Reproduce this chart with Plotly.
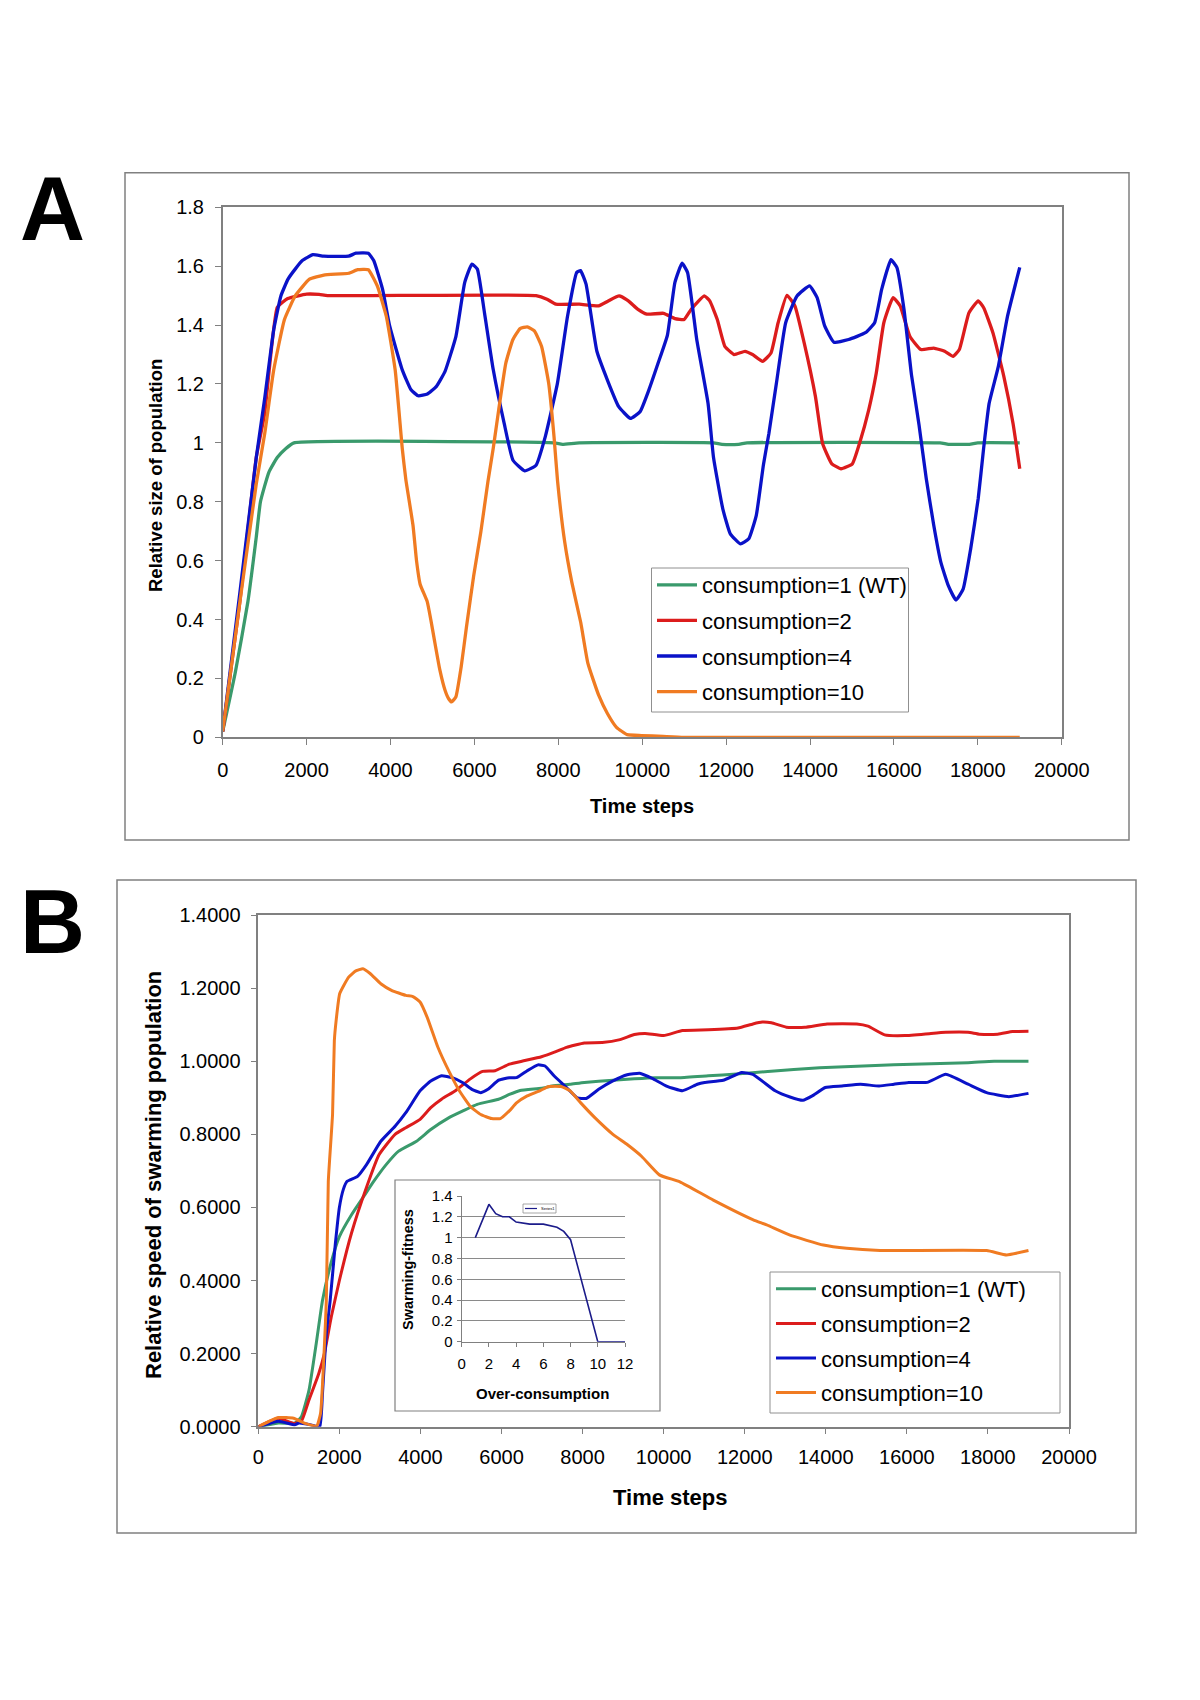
import plotly.graph_objects as go

W, H = 1200, 1700
FONT = "Arial, 'Liberation Sans', sans-serif"


def px(x):
    return x / W


def py(y):
    return 1 - y / H


# ---- Panel A: relative size of population ----
a_wt_x = [0, 300, 600, 800, 900, 1100, 1300, 1500, 1700, 7900, 8100, 8500, 11700, 11900,
          12300, 12500, 17100, 17300, 17800, 18000, 19000]
a_wt_y = [0.02, 0.22, 0.46, 0.68, 0.8, 0.9, 0.95, 0.98, 1.0, 1.0, 0.995, 1.0, 1.0, 0.995,
          0.995, 1.0, 1.0, 0.995, 0.995, 1.0, 1.0]

a_c2_x = [0, 400, 800, 1000, 1300, 1550, 2000, 2300, 2500, 7470, 7730, 7940, 8500, 8960,
          9190, 9450, 9670, 9890, 10110, 10510, 10780, 11000, 11170, 11480, 11610, 11790,
          11970, 12190, 12450, 12630, 12870, 13070, 13240, 13450, 13640, 13860, 14130, 14300,
          14520, 14740, 15010, 15180, 15400, 15580, 15760, 15980, 16150, 16380, 16640, 16950,
          17210, 17410, 17560, 17790, 18010, 18140, 18360, 18620, 18840, 19000]
a_c2_y = [0.02, 0.45, 0.95, 1.1, 1.46, 1.49, 1.505, 1.504, 1.5, 1.5, 1.488, 1.471, 1.471, 1.465,
          1.482, 1.499, 1.482, 1.454, 1.437, 1.44, 1.422, 1.419, 1.454, 1.499, 1.482, 1.419,
          1.328, 1.3, 1.311, 1.3, 1.277, 1.305, 1.408, 1.501, 1.465, 1.34, 1.157, 0.998,
          0.929, 0.912, 0.929, 0.998, 1.112, 1.237, 1.408, 1.493, 1.465, 1.362, 1.317, 1.322,
          1.311, 1.294, 1.317, 1.442, 1.482, 1.459, 1.374, 1.226, 1.066, 0.912]

a_c4_x = [0, 400, 800, 1000, 1217, 1387, 1557, 1728, 1898, 2150, 2410, 3000, 3175, 3470,
          3600, 3810, 3980, 4280, 4490, 4660, 4880, 5090, 5300, 5560, 5770, 5940, 6070, 6240,
          6450, 6710, 6920, 7200, 7470, 7690, 7980, 8220, 8440, 8530, 8660, 8920, 9180, 9440,
          9720, 9950, 10160, 10380, 10600, 10780, 10950, 11080, 11300, 11570, 11700, 11920,
          12100, 12340, 12540, 12720, 12890, 13020, 13200, 13420, 13690, 13990, 14170, 14350,
          14570, 14920, 15320, 15540, 15710, 15930, 16070, 16240, 16420, 16600, 16770, 16950,
          17120, 17300, 17480, 17650, 17830, 18010, 18140, 18270, 18490, 18710, 19000]
a_c4_y = [0.02, 0.48, 0.95, 1.15, 1.385, 1.499, 1.556, 1.59, 1.619, 1.639, 1.634, 1.634, 1.644, 1.644,
          1.619, 1.522, 1.397, 1.248, 1.18, 1.16, 1.166, 1.191, 1.243, 1.362, 1.545, 1.607, 1.59, 1.442,
          1.248, 1.066, 0.941, 0.905, 0.924, 1.021, 1.203, 1.43, 1.579, 1.585, 1.54, 1.311, 1.21, 1.123,
          1.083, 1.106, 1.18, 1.271, 1.365, 1.545, 1.61, 1.579, 1.351, 1.134, 0.95, 0.777,
          0.691, 0.657, 0.674, 0.754, 0.926, 1.032, 1.203, 1.408, 1.499, 1.533, 1.493, 1.397,
          1.342, 1.351, 1.374, 1.408, 1.522, 1.622, 1.596, 1.454, 1.23, 1.06, 0.88, 0.72,
          0.594, 0.514, 0.466, 0.503, 0.64, 0.811, 0.983, 1.134, 1.26, 1.431, 1.596]

a_c10_x = [0, 400, 800, 1000, 1217, 1472, 1728, 2068, 2409, 3004, 3217, 3472, 3685, 3898,
           4111, 4281, 4366, 4536, 4620, 4706, 4877, 4960, 5047, 5175, 5300, 5390, 5455, 5557,
           5685, 5813, 5983, 6153, 6323, 6451, 6579, 6749, 6919, 7089, 7260, 7430, 7600, 7770,
           7898, 7983, 8153, 8323, 8536, 8706, 8962, 9174, 9387, 9643, 9983, 10500, 11000, 19000]
a_c10_y = [0.02, 0.45, 0.86, 1.03, 1.248, 1.419, 1.499, 1.556, 1.57, 1.576, 1.588, 1.588, 1.533, 1.431,
           1.248, 0.98, 0.875, 0.72, 0.6, 0.52, 0.46, 0.4, 0.33, 0.23, 0.16, 0.13, 0.12, 0.137,
           0.24, 0.377, 0.549, 0.697, 0.869, 0.983, 1.112, 1.271, 1.351, 1.388, 1.394, 1.38, 1.328, 1.203,
           1.021, 0.869, 0.663, 0.526, 0.389, 0.251, 0.143, 0.08, 0.034, 0.009, 0.006, 0.003, 0.0, 0.0]

# ---- Panel B: relative speed of swarming population ----
b_wt_x = [0, 500, 900, 1062, 1251, 1440, 1583, 1800, 2000, 2300, 2600, 2846, 3154, 3462, 3903,
          4255, 4696, 5048, 5401, 5929, 6193, 6458, 6986, 7251, 7691, 8044, 8748, 9277, 9805,
          10400, 11100, 11800, 12570, 13850, 14770, 15680, 16600, 17510, 18150, 19000]
b_wt_y = [0.0, 0.01, 0.01, 0.027, 0.1, 0.236, 0.345, 0.45, 0.52, 0.58, 0.63, 0.671, 0.717, 0.754, 0.781,
          0.813, 0.845, 0.864, 0.882, 0.896, 0.909, 0.92, 0.926, 0.932, 0.937, 0.942, 0.948, 0.952, 0.955,
          0.955, 0.96, 0.965, 0.972, 0.982, 0.986, 0.99, 0.993, 0.996, 1.0, 1.0]

b_c2_x = [0, 490, 870, 1060, 1250, 1490, 1630, 1800, 2000, 2300, 2670, 2978, 3374, 3639, 3991,
          4255, 4520, 4872, 5224, 5533, 5841, 6193, 6546, 6986, 7339, 7603, 8044, 8484, 8924,
          9277, 9541, 10000, 10463, 11104, 11836, 12202, 12431, 12660, 13026, 13483, 14032,
          14765, 15039, 15451, 15954, 16595, 16961, 17510, 17785, 18243, 18609, 19000]
b_c2_y = [0.0, 0.023, 0.009, 0.014, 0.073, 0.145, 0.2, 0.3, 0.4, 0.53, 0.655, 0.744, 0.8, 0.818, 0.841,
          0.873, 0.896, 0.92, 0.951, 0.972, 0.974, 0.992, 1.001, 1.012, 1.026, 1.038, 1.05, 1.051, 1.059,
          1.073, 1.076, 1.07, 1.084, 1.086, 1.091, 1.102, 1.107, 1.105, 1.093, 1.093, 1.102,
          1.102, 1.096, 1.072, 1.07, 1.076, 1.079, 1.079, 1.074, 1.074, 1.081, 1.082]

b_c4_x = [0, 500, 900, 1000, 1300, 1516, 1583, 1678, 1773, 1900, 2000, 2100, 2185, 2449, 2670,
          3022, 3374, 3639, 3991, 4255, 4520, 4784, 5048, 5268, 5489, 5665, 5929, 6193, 6370,
          6634, 6898, 7074, 7295, 7603, 7867, 8088, 8396, 8748, 9101, 9409, 9717, 10070, 10463,
          10830, 11012, 11470, 11927, 12202, 12751, 13117, 13437, 13666, 13987, 14399, 14856,
          15314, 15680, 16046, 16503, 16961, 17510, 17968, 18517, 19000]
b_c4_y = [0.0, 0.015, 0.005, 0.01, 0.005, 0.0, 0.09, 0.255, 0.345, 0.5, 0.6, 0.65, 0.671, 0.685, 0.717,
          0.781, 0.822, 0.859, 0.919, 0.946, 0.96, 0.955, 0.941, 0.923, 0.914, 0.923, 0.948, 0.955, 0.955,
          0.974, 0.99, 0.987, 0.96, 0.928, 0.9, 0.898, 0.923, 0.946, 0.963, 0.967, 0.953, 0.932, 0.919,
          0.937, 0.942, 0.948, 0.969, 0.964, 0.919, 0.902, 0.893, 0.905, 0.928, 0.932, 0.937,
          0.932, 0.937, 0.942, 0.942, 0.964, 0.937, 0.914, 0.903, 0.912]

b_c10_x = [0, 493, 872, 1156, 1440, 1535, 1678, 1727, 1832, 1876, 1920, 2009, 2229, 2405, 2581,
           2758, 3022, 3286, 3639, 3815, 3991, 4167, 4431, 4696, 4960, 5224, 5489, 5753, 5973,
           6193, 6370, 6634, 6942, 7162, 7471, 7691, 7955, 8308, 8748, 9101, 9453, 9894, 10401,
           11225, 12212, 12542, 13117, 13939, 14515, 15337, 17969, 18462, 19000]
b_c10_y = [0.0, 0.025, 0.023, 0.009, 0.002, 0.036, 0.345, 0.671, 0.855, 1.056, 1.111, 1.185, 1.23, 1.247, 1.253,
           1.24, 1.212, 1.194, 1.18, 1.177, 1.162, 1.12, 1.038, 0.974, 0.919, 0.877, 0.854, 0.843, 0.843,
           0.864, 0.886, 0.905, 0.919, 0.931, 0.931, 0.919, 0.886, 0.845, 0.8, 0.772, 0.74, 0.689, 0.67,
           0.62, 0.566, 0.552, 0.524, 0.497, 0.488, 0.482, 0.482, 0.47, 0.482]

# ---- Inset: swarming fitness vs over-consumption ----
ins_x = [1, 2, 2.5, 3, 3.5, 4, 5, 6, 7, 7.5, 8, 10, 11, 12]
ins_y = [1.0, 1.32, 1.23, 1.2, 1.2, 1.15, 1.13, 1.13, 1.1, 1.06, 0.98, 0.0, 0.0, 0.0]

names = ["consumption=1 (WT)", "consumption=2", "consumption=4", "consumption=10"]
colors = ["#3a9a6c", "#dc1c1c", "#0a12c8", "#f07b22"]

fig = go.Figure()

a_series = [(a_wt_x, a_wt_y), (a_c2_x, a_c2_y), (a_c4_x, a_c4_y), (a_c10_x, a_c10_y)]
for i, (xs, ys) in enumerate(a_series):
    fig.add_trace(go.Scatter(
        x=xs, y=ys, name=names[i], mode="lines",
        line=dict(color=colors[i], width=3.3, shape="spline", smoothing=0.4),
        xaxis="x", yaxis="y", legend="legend", legendgroup="a%d" % i,
    ))

b_series = [(b_wt_x, b_wt_y), (b_c2_x, b_c2_y), (b_c4_x, b_c4_y), (b_c10_x, b_c10_y)]
for i, (xs, ys) in enumerate(b_series):
    fig.add_trace(go.Scatter(
        x=xs, y=ys, name=names[i], mode="lines",
        line=dict(color=colors[i], width=3, shape="spline", smoothing=0.4),
        xaxis="x2", yaxis="y2", legend="legend2", legendgroup="b%d" % i,
    ))

fig.add_trace(go.Scatter(
    x=ins_x, y=ins_y, name="Series1", mode="lines",
    line=dict(color="#1c1c8a", width=1.6),
    xaxis="x3", yaxis="y3", showlegend=False,
))

axis_common = dict(
    showline=True, linecolor="#808080", linewidth=1.5, mirror=True,
    ticks="outside", ticklen=6, tickcolor="#808080", tickwidth=1,
    showgrid=False, zeroline=False, automargin=False,
    tickfont=dict(family=FONT, size=20, color="black"),
)

# legend frames are drawn as shapes below, so the legends themselves are borderless
legend_common = dict(
    bgcolor="rgba(0,0,0,0)", borderwidth=0,
    font=dict(family=FONT, size=22, color="black"),
    xanchor="left", yanchor="top", traceorder="grouped",
    itemwidth=40,
)

fig.update_layout(
    width=W, height=H, autosize=False,
    margin=dict(l=0, r=0, t=0, b=0, autoexpand=False),
    paper_bgcolor="white",
    plot_bgcolor="rgba(0,0,0,0)",
    font=dict(family=FONT, color="black"),
    xaxis=dict(domain=[px(222.7), px(1061.7)], anchor="y", range=[0, 20000],
               tick0=0, dtick=2000, tickformat="d", ticklabelstandoff=8, **axis_common),
    yaxis=dict(domain=[py(737.3), py(207.3)], anchor="x", range=[0, 1.8],
               tick0=0, dtick=0.2, ticklabelstandoff=7, **axis_common),
    xaxis2=dict(domain=[px(258.3), px(1069)], anchor="y2", range=[0, 20000],
                tick0=0, dtick=2000, tickformat="d", ticklabelstandoff=6, **axis_common),
    yaxis2=dict(domain=[py(1426.7), py(915)], anchor="x2", range=[0, 1.4],
                tick0=0, dtick=0.2, tickformat=".4f", ticklabelstandoff=6, **axis_common),
    xaxis3=dict(domain=[px(461.7), px(625)], anchor="y3", range=[0, 12], tick0=0, dtick=2,
                showline=True, linecolor="#808080", linewidth=1, mirror=False,
                ticks="outside", ticklen=4, tickcolor="#808080", automargin=False,
                showgrid=False, zeroline=False, ticklabelstandoff=4,
                tickfont=dict(family=FONT, size=15, color="black")),
    yaxis3=dict(domain=[py(1341.7), py(1196)], anchor="x3", range=[0, 1.4], tick0=0, dtick=0.2,
                showline=True, linecolor="#808080", linewidth=1, mirror=False,
                ticks="outside", ticklen=4, tickcolor="#808080", automargin=False,
                showgrid=True, gridcolor="#8a8a8a", gridwidth=1, zeroline=False,
                ticklabelstandoff=1,
                tickfont=dict(family=FONT, size=15, color="black")),
    legend=dict(x=px(652), y=py(564), tracegroupgap=4, **legend_common),
    legend2=dict(x=px(771), y=py(1268), tracegroupgap=3, **legend_common),
    showlegend=True,
)

frame = dict(color="#808080", width=1.5)
shapes = [
    # panel frames
    dict(type="rect", xref="paper", yref="paper", x0=px(125), x1=px(1129), y0=py(840), y1=py(172.7),
         line=frame, layer="below"),
    dict(type="rect", xref="paper", yref="paper", x0=px(117), x1=px(1136), y0=py(1533), y1=py(880),
         line=frame, layer="below"),
    # inset frame
    dict(type="rect", xref="paper", yref="paper", x0=px(395), x1=px(660), y0=py(1411), y1=py(1180),
         line=dict(color="#808080", width=1.2), fillcolor="white", layer="below"),
    # legend boxes
    dict(type="rect", xref="paper", yref="paper", x0=px(651.5), x1=px(908.5), y0=py(712), y1=py(568),
         line=dict(color="#909090", width=1), fillcolor="white", layer="above"),
    dict(type="rect", xref="paper", yref="paper", x0=px(770), x1=px(1060), y0=py(1413), y1=py(1272),
         line=dict(color="#909090", width=1), fillcolor="white", layer="above"),
    # tiny inset legend box and its sample line
    dict(type="rect", xref="paper", yref="paper", x0=px(523), x1=px(556), y0=py(1213), y1=py(1204),
         line=dict(color="#909090", width=0.8), fillcolor="white", layer="above"),
    dict(type="line", xref="paper", yref="paper", x0=px(525), x1=px(537), y0=py(1208.5), y1=py(1208.5),
         line=dict(color="#1c1c8a", width=1.2), layer="above"),
]
fig.update_layout(shapes=shapes)


def label(text, x, y, size, bold=True, angle=0, anchor="center"):
    fig.add_annotation(
        text=text, xref="paper", yref="paper", x=px(x), y=py(y),
        xanchor=anchor, yanchor="middle", showarrow=False, textangle=angle,
        font=dict(family=FONT, size=size, color="black", weight=700 if bold else 400),
    )


label("A", 52, 209, 90)
label("B", 52, 922.5, 90)
label("Relative size of population", 155, 476, 18.5, angle=-90)
label("Time steps", 642, 806, 20)
label("Relative speed of swarming population", 153, 1175, 22, angle=-90)
label("Time steps", 670, 1497, 22)
label("Swarming-fitness", 408, 1270, 14.5, angle=-90)
label("Over-consumption", 542, 1393, 15)
label("Series1", 538.5, 1208.5, 4, bold=False, anchor="left")

fig.write_html(
    "out.html",
    config={"displayModeBar": False, "responsive": False},
    post_script="document.body.style.margin='0';document.body.style.overflow='hidden';",
)
